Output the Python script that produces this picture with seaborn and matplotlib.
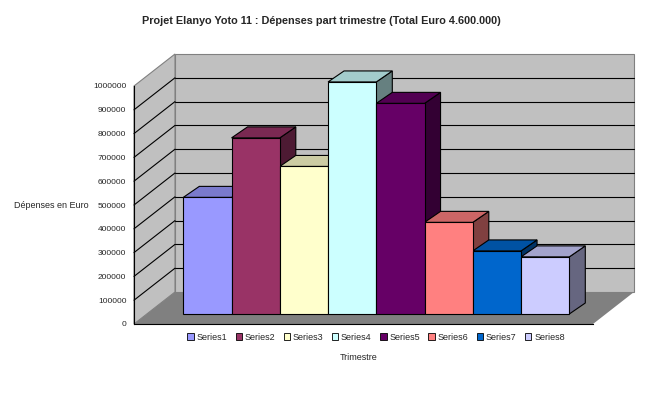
import numpy as np
import pandas as pd
import matplotlib
matplotlib.use('Agg')
import matplotlib.pyplot as plt
import matplotlib.colors as mcolors
from matplotlib.patches import Polygon, Rectangle
import seaborn as sns

# data
series = ['Series1', 'Series2', 'Series3', 'Series4', 'Series5', 'Series6', 'Series7', 'Series8']
values = [490000, 740000, 620000, 975000, 885000, 385000, 265000, 240000]
colors = ['#9999FF', '#993366', '#FFFFCC', '#CCFFFF', '#660066', '#FF8080', '#0066CC', '#CCCCFF']
yticks = list(range(0, 1000001, 100000))

title = 'Projet Elanyo Yoto 11 : Dépenses part trimestre (Total Euro 4.600.000)'
ylabel = 'Dépenses en Euro'
xlabel = 'Trimestre'

df = pd.DataFrame({'serie': series, 'valeur': values})

sns.set_theme(style='white')
plt.rcParams['font.family'] = ['Liberation Sans', 'DejaVu Sans']

W, H = 645, 396
fig = plt.figure(figsize=(W / 100, H / 100), dpi=100)

# 3D box geometry (pixels)
FX0, FY0 = 134, 324      # front-left floor corner
FX1 = 593                # front-right floor corner
DX, DY = 41, 32          # depth offset of the walls
S = 238.0                # pixels per 1 000 000
wall = '#C0C0C0'
floor = '#808080'

# background: walls and floor in pixel coordinates
bg = fig.add_axes([0, 0, 1, 1], zorder=0)
bg.set_xlim(0, W)
bg.set_ylim(H, 0)
bg.axis('off')
top_front = FY0 - S
bg.add_patch(Polygon([(FX0 + DX, FY0 - DY), (FX1 + DX, FY0 - DY),
                      (FX1 + DX, top_front - DY), (FX0 + DX, top_front - DY)],
                     closed=True, facecolor=wall, edgecolor='#808080', lw=0.8))
bg.add_patch(Polygon([(FX0, FY0), (FX0 + DX, FY0 - DY),
                      (FX0 + DX, top_front - DY), (FX0, top_front)],
                     closed=True, facecolor=wall, edgecolor='#808080', lw=0.8))
bg.add_patch(Polygon([(FX0, FY0), (FX1, FY0), (FX1 + DX, FY0 - DY), (FX0 + DX, FY0 - DY)],
                     closed=True, facecolor=floor, edgecolor='none'))
for v in yticks[1:-1]:
    yf = FY0 - v / 1e6 * S
    bg.plot([FX0, FX0 + DX], [yf, yf - DY], color='black', lw=0.8)
    bg.plot([FX0 + DX, FX1 + DX], [yf - DY, yf - DY], color='black', lw=0.8)

# front axis with the value ticks
axf = fig.add_axes([FX0 / W, (H - FY0) / H, (FX1 - FX0) / W, S / H], zorder=1)
axf.patch.set_alpha(0)
axf.set_xlim(0, 1)
axf.set_ylim(0, 1000000)
axf.set_yticks(yticks)
axf.set_yticklabels([str(v) for v in yticks], fontsize=6)
axf.set_xticks([0, 1])
axf.set_xticklabels(['', ''])
axf.tick_params(axis='both', direction='out', length=4, width=0.8, color='black', pad=1.5)
for side in ['top', 'right']:
    axf.spines[side].set_visible(False)
for side in ['left', 'bottom']:
    axf.spines[side].set_color('black')
    axf.spines[side].set_linewidth(0.8)
axf.set_ylabel(ylabel, rotation=0, fontsize=6.5, ha='right', va='center')
axf.yaxis.set_label_coords(-0.098, 0.5)

# bars: front faces with seaborn, in a full-figure axes with pixel-matched scale
BX0, BW = 183.3, 48.25   # left edge of first bar, bar width (px)
BY0 = 314                # bar base (px from top)
ax = fig.add_axes([0, 0, 1, 1], zorder=3)
ax.patch.set_alpha(0)
sns.barplot(data=df, x='serie', y='valeur', hue='serie', palette=colors, legend=False,
            width=1.0, edgecolor='black', linewidth=0.8, saturation=1, ax=ax)
xl = -0.5 - BX0 / BW
ax.set_xlim(xl, xl + W / BW)
yl = -(H - BY0) / S * 1e6
ax.set_ylim(yl, yl + H / S * 1e6)
ax.axis('off')

bdx = 16 / BW
bdy = 11 / S * 1e6
for p, c in zip(ax.patches, colors):
    p.set_zorder(3)
    x0, w, h = p.get_x(), p.get_width(), p.get_height()
    rgb = np.array(mcolors.to_rgb(c))
    top = [(x0, h), (x0 + w, h), (x0 + w + bdx, h + bdy), (x0 + bdx, h + bdy)]
    side = [(x0 + w, 0), (x0 + w + bdx, bdy), (x0 + w + bdx, h + bdy), (x0 + w, h)]
    ax.add_patch(Polygon(side, closed=True, facecolor=rgb * 0.5, edgecolor='black',
                         lw=0.8, zorder=1, clip_on=False))
    ax.add_patch(Polygon(top, closed=True, facecolor=rgb * 0.8, edgecolor='black',
                         lw=0.8, zorder=2, clip_on=False))

# legend and labels
handles = [Rectangle((0, 0), 1, 1, facecolor=c, edgecolor='black', lw=0.6) for c in colors]
fig.legend(handles, series, loc='center', bbox_to_anchor=(376 / W, 1 - 337 / H), ncol=8,
           frameon=False, fontsize=6.5, handlelength=0.7, handleheight=0.7,
           handletextpad=0.3, columnspacing=0.95, borderaxespad=0)
fig.text(359 / W, 1 - 357 / H, xlabel, ha='center', va='center', fontsize=6.5)
fig.text(321 / W, 1 - 21 / H, title, ha='center', va='center', fontsize=7.8, fontweight='bold')

fig.savefig('out.png', dpi=100)
